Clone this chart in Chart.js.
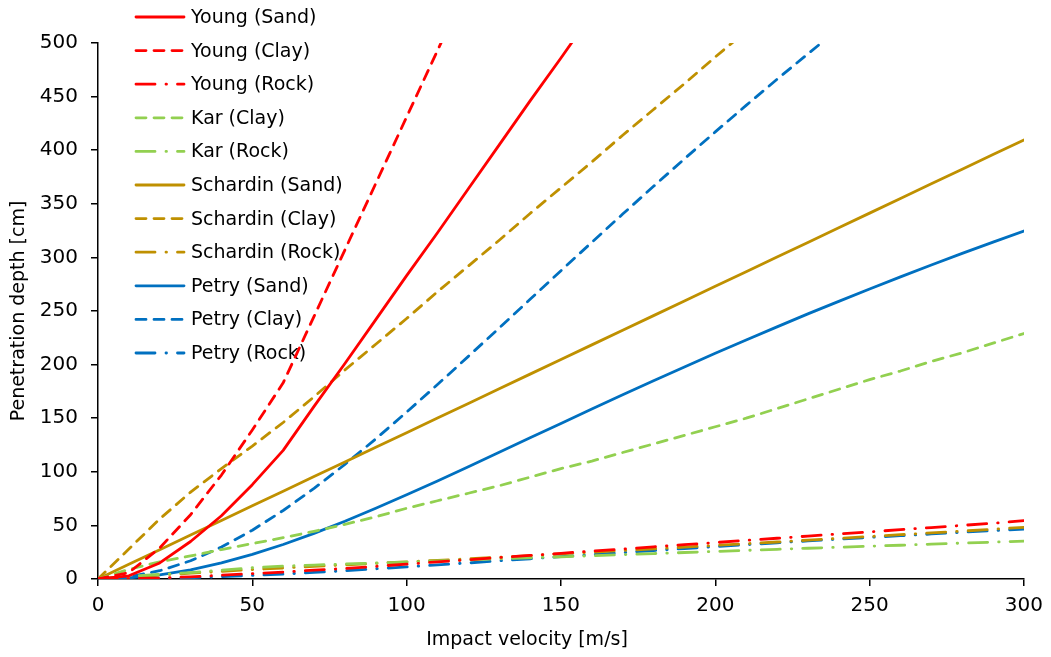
<!DOCTYPE html>
<html>
<head>
<meta charset="utf-8">
<script src="https://cdn.jsdelivr.net/npm/chart.js@4/dist/chart.umd.min.js"></script>
<style>
  body { margin: 0; background: #fff; }
  #wrap { width: 1051px; height: 657px; position: relative; }
</style>
</head>
<body>
<div id="wrap"><canvas id="chart"></canvas></div>
<script>
// impact velocity [m/s], every 10 m/s
const velocity = [0, 10, 20, 30, 40, 50, 60, 70, 80, 90, 100, 110, 120, 130, 140, 150,
    160, 170, 180, 190, 200, 210, 220, 230, 240, 250, 260, 270, 280, 290, 300];

// penetration depth [cm] (series past 500 stop one step above the top)
const youngSand = [0, 3, 15, 35, 59, 88, 120, 161, 201, 242, 283, 323, 364, 405, 446, 486, 527];
const youngClay = [0, 6, 29, 60, 97, 139, 183, 245, 307, 369, 431, 493, 555];
const youngRock = [0, 0.3, 0.9, 2, 3.5, 5, 6.5, 8.2, 9.8, 11.8, 13.8, 16, 18, 20, 22, 24,
    26, 28, 30, 32, 34, 36, 38, 40, 42, 44, 46, 48, 50, 52, 54.5];
const karClay = [0, 9, 16, 21.5, 27.5, 33, 38.5, 44.5, 51, 58, 66, 73, 80, 87, 95, 103,
    110, 118, 126, 134, 142, 150, 159, 168, 177, 186, 194, 203, 211, 220, 229];
const karRock = [0, 2.5, 4.3, 6, 8.3, 10.5, 12, 13, 14, 15, 15.8, 16.8, 17.8, 18.8, 19.8, 20.7,
    21.7, 22.7, 23.7, 24.7, 25.7, 26.7, 27.7, 28.7, 29.6, 30.6, 31.5, 32.5, 33.5, 34.4, 35.4];
const schardinSand = [0, 13.7, 27.3, 41, 54.6, 68.3, 81.9, 95.6, 109.2, 122.9, 136.5, 150.2, 163.8, 177.5, 191.1, 204.8,
    218.4, 232.1, 245.7, 259.4, 273, 286.7, 300.3, 314, 327.6, 341.3, 354.9, 368.6, 382.2, 395.9, 409.5];
const schardinClay = [0, 28, 56, 81, 103, 124, 146, 170, 195, 219, 243, 268, 292, 316, 341, 365,
    389, 414, 438, 462, 487, 511];
const schardinRock = [0, 1.9, 3.7, 5.4, 7.1, 8.8, 10.3, 11.8, 13.2, 14.6, 16, 17.4, 18.8, 20.3, 21.8, 23.5,
    25, 26.6, 28.1, 29.7, 31.3, 32.9, 34.5, 36.2, 37.9, 39.6, 41.3, 43, 44.7, 46.4, 48.2];
const petrySand = [0, 1, 3.9, 8.6, 15, 23, 32.2, 42.6, 53.9, 66, 78.6, 91.5, 104.8, 118.2, 131.7, 145.1,
    158.5, 171.8, 184.9, 197.8, 210.5, 223, 235.2, 247.3, 259, 270.5, 281.8, 292.9, 303.7, 314.2, 324.6];
const petryClay = [0, 1.9, 7.7, 17, 29.8, 45.5, 63.9, 84.5, 106.9, 130.7, 155.7, 181.4, 207.7, 234.2, 260.9, 287.6,
    314.1, 340.4, 366.3, 391.9, 417.1, 441.8, 466.1, 489.9, 513.2];
const petryRock = [0, 0.1, 0.6, 1.2, 2.2, 3.3, 4.6, 6.1, 7.7, 9.5, 11.3, 13.1, 15, 17, 18.9, 20.8,
    22.8, 24.7, 26.5, 28.4, 30.2, 32, 33.8, 35.5, 37.2, 38.8, 40.4, 42, 43.6, 45.1, 46.6];

const RED = "#FF0000", GREEN = "#92D050", GOLD = "#BF9000", BLUE = "#0070C0";
const DASH = [10, 8];
const DASHDOT = [19, 11, 0.5, 11];
const FONT = "'DejaVu Sans', sans-serif";

function pts(arr) {
    return arr.map((y, i) => ({ x: velocity[i], y: y }));
}

function series(label, arr, color, dash) {
    return {
        label: label,
        data: pts(arr),
        borderColor: color,
        backgroundColor: color,
        borderWidth: 2.8,
        borderDash: dash,
        borderCapStyle: "round",
        borderJoinStyle: "round",
        pointRadius: 0,
        tension: 0,
        fill: false
    };
}

// legend drawn inside the plot, top-left, like the original; x title centred on the page
const overlayLegend = {
    id: "overlayLegend",
    beforeDatasetsDraw(chart) {
        const ctx = chart.ctx;
        ctx.save();
        ctx.font = "19px " + FONT;
        ctx.textBaseline = "middle";
        ctx.fillStyle = "#000";
        chart.data.datasets.forEach((ds, i) => {
            const y = 17 + i * 33.6;
            ctx.strokeStyle = ds.borderColor;
            ctx.lineWidth = 2.8;
            ctx.lineCap = "round";
            ctx.setLineDash(ds.borderDash || []);
            ctx.beginPath();
            ctx.moveTo(136, y);
            ctx.lineTo(184, y);
            ctx.stroke();
            ctx.setLineDash([]);
            ctx.fillText(ds.label, 191, y + 1);
        });
        ctx.font = "19px " + FONT;
        ctx.textAlign = "center";
        ctx.fillText("Impact velocity [m/s]", 527, 640);
        ctx.restore();
    }
};

const axisCommon = {
    type: "linear",
    grid: { drawOnChartArea: false, drawTicks: true, tickLength: 7, color: "#000", lineWidth: 1.5 },
    border: { display: true, color: "#000", width: 1.5 },
};

new Chart(document.getElementById("chart").getContext("2d"), {
    type: "line",
    data: {
        datasets: [
            series("Young (Sand)", youngSand, RED, []),
            series("Young (Clay)", youngClay, RED, DASH),
            series("Young (Rock)", youngRock, RED, DASHDOT),
            series("Kar (Clay)", karClay, GREEN, DASH),
            series("Kar (Rock)", karRock, GREEN, DASHDOT),
            series("Schardin (Sand)", schardinSand, GOLD, []),
            series("Schardin (Clay)", schardinClay, GOLD, DASH),
            series("Schardin (Rock)", schardinRock, GOLD, DASHDOT),
            series("Petry (Sand)", petrySand, BLUE, []),
            series("Petry (Clay)", petryClay, BLUE, DASH),
            series("Petry (Rock)", petryRock, BLUE, DASHDOT)
        ]
    },
    options: {
        responsive: true,
        maintainAspectRatio: false,
        animation: false,
        events: [],
        layout: { padding: { top: 43, right: 21, left: 0, bottom: 0 } },
        plugins: { legend: { display: false }, tooltip: { enabled: false } },
        scales: {
            x: Object.assign({}, axisCommon, {
                min: 0, max: 300,
                ticks: { stepSize: 50, padding: 8, color: "#000", font: { family: FONT, size: 20 }, maxRotation: 0 },
                title: { display: false },
                afterFit(scale) { scale.height = 78; }
            }),
            y: Object.assign({}, axisCommon, {
                min: 0, max: 500,
                ticks: { stepSize: 50, padding: 13, color: "#000", font: { family: FONT, size: 20 } },
                title: { display: true, text: "Penetration depth [cm]", color: "#000",
                    font: { family: FONT, size: 19 }, padding: { top: 8, bottom: 0 } },
                afterFit(scale) { scale.width = 98; }
            })
        }
    },
    plugins: [overlayLegend]
});
</script>
</body>
</html>
